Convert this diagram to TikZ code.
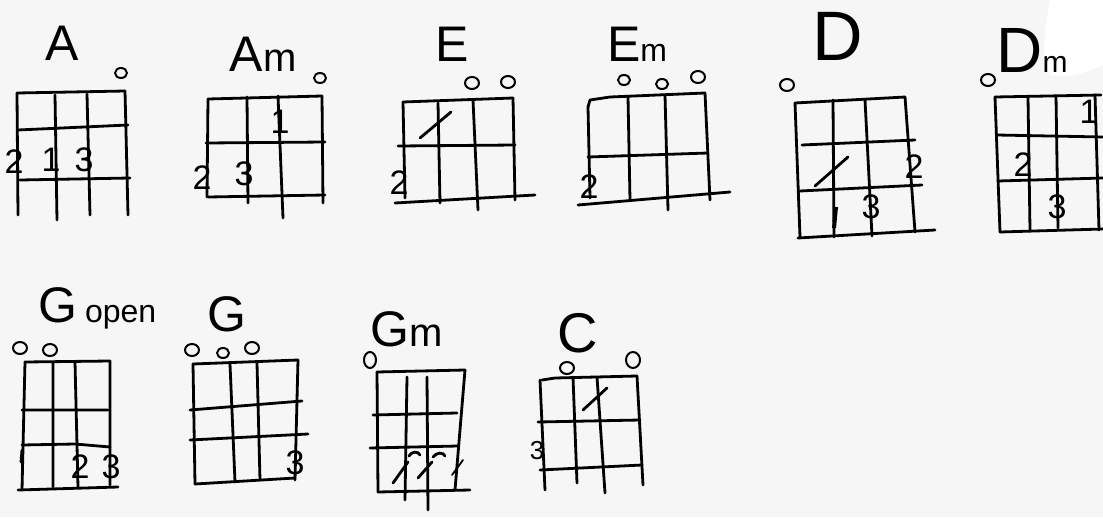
\documentclass[tikz,border=0pt]{standalone}
\usepackage{fontspec}
\setmainfont{Liberation Sans}
\begin{document}
\begin{tikzpicture}[x=1pt,y=-1pt,
  g/.style={line width=2.8pt, line cap=round, line join=round},
  mk/.style={line width=2.8pt, line cap=round},
  op/.style={line width=2pt},
  ttl/.style={inner sep=0pt, font=\fontsize{50}{50}\selectfont},
  num/.style={inner sep=0pt, font=\fontsize{34}{34}\selectfont}]
\fill[gray!7] (0,0) rectangle (1103,517);
\useasboundingbox (0,0) rectangle (1103,517);
\fill[white] (1050,0) .. controls (1045,30) and (1040,60) .. (1050,75) .. controls (1070,80) and (1090,70) .. (1103,65) -- (1103,0) -- cycle;

% ---------- A
\node[ttl] (tA) at (62,43) {A};
\draw[op] (121,73) ellipse [x radius=6pt, y radius=5pt];
\draw[g] (17,93) -- (125,91) (18,130) -- (128,125) (20,180) -- (130,178);
\draw[g] (17,93) -- (18,215) (55,95) -- (57,220) (87,94) -- (90,215) (125,91) -- (128,215);
\node[num] (A2) at (14,162) {2};
\node[num] (A1) at (51,160) {1};
\node[num] (A3) at (84,160) {3};

% ---------- Am
\node[ttl] (tAm) at (263,54) {A\fontsize{40}{40}\selectfont m};
\draw[op] (320,78) ellipse [x radius=6pt, y radius=5pt];
\draw[g] (208,99) -- (322,96) (206,143) -- (325,142) (208,197) -- (325,195);
\draw[g] (208,99) -- (207,197) (247,97) -- (248,203) (278,96) -- (283,218) (322,96) -- (323,203);
\node[num] (Am1) at (280,122) {1};
\node[num] (Am2) at (202,178) {2};
\node[num] (Am3) at (244,174) {3};

% ---------- E
\node[ttl] (tE) at (452,44) {E};
\draw[op] (472,83) ellipse [x radius=7pt, y radius=6pt];
\draw[op] (508,82) ellipse [x radius=7pt, y radius=6pt];
\draw[g] (403,102) -- (513,98) (398,146) -- (515,145) (395,203) -- (535,195);
\draw[g] (403,102) -- (405,198) (438,103) -- (440,203) (473,100) -- (478,210) (513,98) -- (515,200);
\draw[mk] (420,138) -- (451,112);
\node[num] (E2) at (399,183) {2};

% ---------- Em
\node[ttl] (tEm) at (637,44) {E\fontsize{32}{32}\selectfont m};
\draw[op] (624,80) ellipse [x radius=6pt, y radius=5pt];
\draw[op] (662,84) ellipse [x radius=6pt, y radius=5pt];
\draw[op] (698,77) ellipse [x radius=7pt, y radius=6pt];
\draw[g] (588,107) -- (590,100) -- (610,97) -- (705,93) (588,157) -- (708,153) (578,205) -- (730,192);
\draw[g] (588,107) -- (590,198) (628,97) -- (630,200) (665,95) -- (668,210) (705,93) -- (710,200);
\node[num] (Em2) at (589,187) {2};

% ---------- D
\node[ttl, font=\fontsize{70}{70}\selectfont] (tD) at (838,36) {D};
\draw[op] (787,85) ellipse [x radius=7pt, y radius=6pt];
\draw[g] (795,103) -- (905,97) (802,145) -- (915,140) (800,191) -- (922,185) (798,238) -- (935,230);
\draw[g] (795,103) -- (800,237) (833,100) -- (834,237) (865,100) -- (872,236) (905,97) -- (915,232);
\draw[mk] (815,186) -- (848,157);
\draw[line width=4pt] (836,207) -- (834,228);
\node[num] (D2) at (914,167) {2};
\node[num] (D3) at (871,207) {3};

% ---------- Dm
\node[ttl, font=\fontsize{64}{64}\selectfont] (tDm) at (1032,50) {D\fontsize{30}{30}\selectfont m};
\draw[op] (988,80) ellipse [x radius=7pt, y radius=6pt];
\draw[g] (995,97) -- (1101,95) (997,135) -- (1103,137) (998,181) -- (1103,178) (1000,232) -- (1103,229);
\draw[g] (995,97) -- (1000,232) (1028,97) -- (1030,230) (1056,96) -- (1058,228) (1095,95) -- (1099,230);
\node[num] (Dm1) at (1089,112) {1};
\node[num] (Dm2) at (1023,165) {2};
\node[num] (Dm3) at (1057,207) {3};

% ---------- G open
\node[ttl, anchor=base west] (tGo) at (38,322) {G\hspace{8pt}\fontsize{32}{32}\selectfont open};
\draw[op] (20,348) ellipse [x radius=7pt, y radius=6pt];
\draw[op] (50,350) ellipse [x radius=7pt, y radius=6pt];
\draw[g] (25,362) -- (110,361) (22,410) -- (108,410) (22,445) -- (75,444) -- (110,447) (18,490) -- (118,487);
\draw[g] (25,362) -- (22,490) (53,362) -- (53,487) (75,362) -- (78,487) (110,361) -- (110,485);
\draw[mk] (22,450) -- (21,462);
\node[num] (Go2) at (80,467) {2};
\node[num] (Go3) at (111,467) {3};

% ---------- G
\node[ttl] (tG) at (227,314) {G};
\draw[op] (192,350) ellipse [x radius=7pt, y radius=6pt];
\draw[op] (223,353) ellipse [x radius=6pt, y radius=5pt];
\draw[op] (252,348) ellipse [x radius=7pt, y radius=6pt];
\draw[g] (193,364) -- (298,360) (190,410) -- (302,401) (190,440) -- (308,434) (195,484) -- (295,478);
\draw[g] (193,364) -- (195,484) (230,364) -- (235,482) (257,363) -- (260,480) (298,360) -- (295,480);
\node[num] (G3) at (295,463) {3};

% ---------- Gm
\node[ttl] (tGm) at (407,329) {G\fontsize{40}{40}\selectfont m};
\draw[op] (370,360) ellipse [x radius=6pt, y radius=8pt];
\draw[g] (377,372) -- (465,370) (373,415) -- (457,413) (370,448) -- (458,446) (378,492) -- (470,490);
\draw[g] (377,372) -- (378,492) (407,377) -- (405,500) (427,377) -- (428,510) (465,370) -- (455,490);
\draw[mk] (393,483) -- (408,462) (409,456) .. controls (412,451) and (418,451) .. (420,455);
\draw[mk] (418,478) -- (432,462) (433,457) .. controls (437,452) and (443,452) .. (445,456);
\draw[line width=1.8pt, line cap=round] (452,475) -- (463,460);

% ---------- C
\node[ttl, font=\fontsize{56}{56}\selectfont] (tC) at (578,333) {C};
\draw[op] (567,368) ellipse [x radius=7pt, y radius=6pt];
\draw[op] (633,360) ellipse [x radius=7pt, y radius=8pt];
\draw[g] (542,380) -- (555,378) -- (637,376) (538,422) -- (640,420) (540,470) -- (642,465);
\draw[g] (540,380) -- (545,490) (573,377) -- (577,483) (597,377) -- (605,493) (637,376) -- (643,485);
\draw[mk] (583,410) -- (607,388);
\node[num, font=\fontsize{26}{26}\selectfont] (C3) at (537,451) {3};
\end{tikzpicture}
\end{document}
